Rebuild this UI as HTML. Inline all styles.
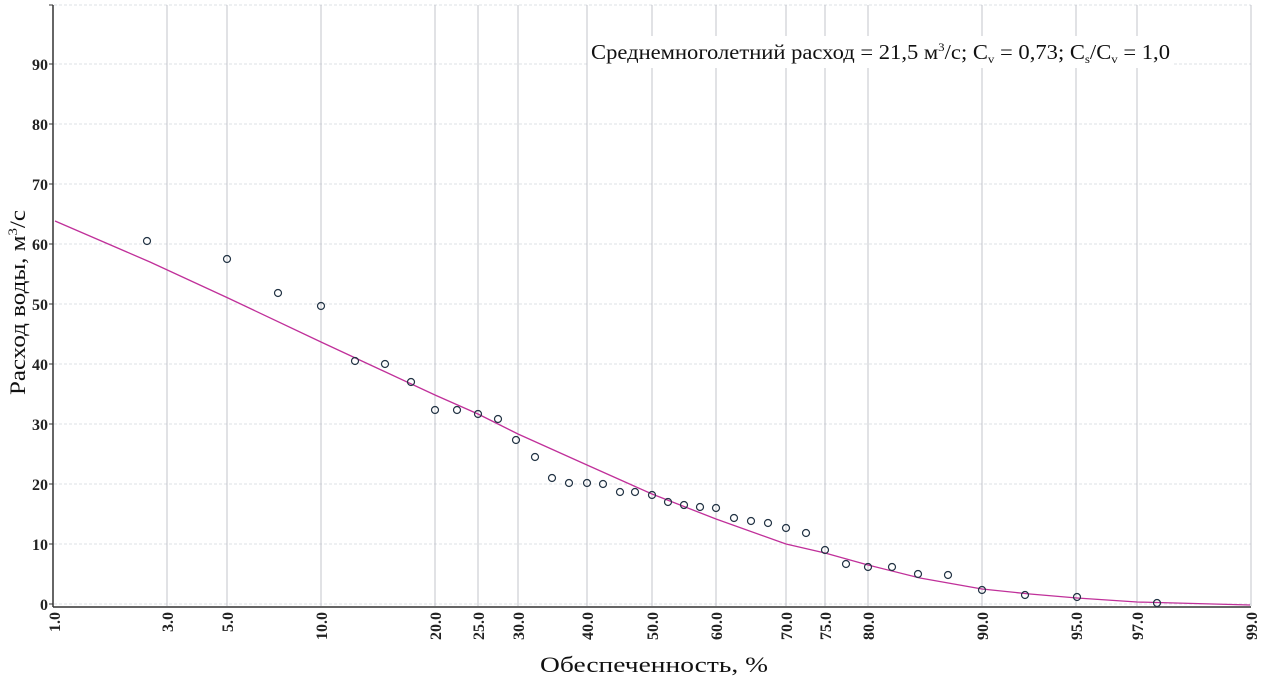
<!DOCTYPE html>
<html><head><meta charset="utf-8"><style>
body{margin:0;background:#fff;}
svg{display:block;font-family:"Liberation Serif",serif;}
</style></head><body>
<svg width="1265" height="678" viewBox="0 0 1265 678" xmlns="http://www.w3.org/2000/svg">
<rect width="1265" height="678" fill="#fff"/>
<g stroke="#dde0e6" stroke-width="1" stroke-dasharray="3,2">
<line x1="54" y1="5" x2="1251" y2="5"/>
<line x1="54" y1="64" x2="1251" y2="64"/>
<line x1="54" y1="124" x2="1251" y2="124"/>
<line x1="54" y1="184" x2="1251" y2="184"/>
<line x1="54" y1="244" x2="1251" y2="244"/>
<line x1="54" y1="304" x2="1251" y2="304"/>
<line x1="54" y1="364" x2="1251" y2="364"/>
<line x1="54" y1="424" x2="1251" y2="424"/>
<line x1="54" y1="484" x2="1251" y2="484"/>
<line x1="54" y1="544" x2="1251" y2="544"/>
<line x1="54" y1="604" x2="1251" y2="604"/>
</g>
<g stroke="#b4b6be" stroke-width="0.8">
<line x1="167" y1="5" x2="167" y2="606"/>
<line x1="227" y1="5" x2="227" y2="606"/>
<line x1="321" y1="5" x2="321" y2="606"/>
<line x1="435" y1="5" x2="435" y2="606"/>
<line x1="478" y1="5" x2="478" y2="606"/>
<line x1="518" y1="5" x2="518" y2="606"/>
<line x1="587" y1="5" x2="587" y2="606"/>
<line x1="652" y1="5" x2="652" y2="606"/>
<line x1="716" y1="5" x2="716" y2="606"/>
<line x1="786" y1="5" x2="786" y2="606"/>
<line x1="825" y1="5" x2="825" y2="606"/>
<line x1="868" y1="5" x2="868" y2="606"/>
<line x1="982" y1="5" x2="982" y2="606"/>
<line x1="1076" y1="5" x2="1076" y2="606"/>
<line x1="1137" y1="5" x2="1137" y2="606"/>
<line x1="1251" y1="5" x2="1251" y2="606"/>
</g>
<rect x="589" y="36" width="584" height="32" fill="#fff"/>
<text x="591" y="59" font-size="21" fill="#111" textLength="579" lengthAdjust="spacingAndGlyphs">Среднемноголетний расход = 21,5 м<tspan font-size="12" dy="-8">3</tspan><tspan dy="8">/с; C</tspan><tspan font-size="12" dy="4">v</tspan><tspan dy="-4"> = 0,73; C</tspan><tspan font-size="12" dy="4">s</tspan><tspan dy="-4">/C</tspan><tspan font-size="12" dy="4">v</tspan><tspan dy="-4"> = 1,0</tspan></text>
<line x1="53" y1="5" x2="53" y2="607" stroke="#333" stroke-width="1.5"/>
<line x1="53" y1="607" x2="1251" y2="607" stroke="#333" stroke-width="1.5"/>
<g stroke="#333" stroke-width="1">
<line x1="49" y1="5" x2="53" y2="5"/><line x1="49" y1="64" x2="53" y2="64"/><line x1="49" y1="124" x2="53" y2="124"/><line x1="49" y1="184" x2="53" y2="184"/><line x1="49" y1="244" x2="53" y2="244"/><line x1="49" y1="304" x2="53" y2="304"/><line x1="49" y1="364" x2="53" y2="364"/><line x1="49" y1="424" x2="53" y2="424"/><line x1="49" y1="484" x2="53" y2="484"/><line x1="49" y1="544" x2="53" y2="544"/><line x1="49" y1="604" x2="53" y2="604"/>
</g>
<g font-size="16" font-weight="bold" fill="#222" text-anchor="end">
<text x="48" y="70">90</text><text x="48" y="130">80</text><text x="48" y="190">70</text><text x="48" y="250">60</text><text x="48" y="310">50</text><text x="48" y="370">40</text><text x="48" y="430">30</text><text x="48" y="490">20</text><text x="48" y="550">10</text><text x="48" y="610">0</text>
</g>
<g font-size="16" font-weight="bold" fill="#222" text-anchor="end">
<text transform="translate(60,612) rotate(-90)">1.0</text>
<text transform="translate(173,612) rotate(-90)">3.0</text>
<text transform="translate(233,612) rotate(-90)">5.0</text>
<text transform="translate(327,612) rotate(-90)">10.0</text>
<text transform="translate(441,612) rotate(-90)">20.0</text>
<text transform="translate(484,612) rotate(-90)">25.0</text>
<text transform="translate(524,612) rotate(-90)">30.0</text>
<text transform="translate(593,612) rotate(-90)">40.0</text>
<text transform="translate(658,612) rotate(-90)">50.0</text>
<text transform="translate(722,612) rotate(-90)">60.0</text>
<text transform="translate(792,612) rotate(-90)">70.0</text>
<text transform="translate(831,612) rotate(-90)">75.0</text>
<text transform="translate(874,612) rotate(-90)">80.0</text>
<text transform="translate(988,612) rotate(-90)">90.0</text>
<text transform="translate(1082,612) rotate(-90)">95.0</text>
<text transform="translate(1143,612) rotate(-90)">97.0</text>
<text transform="translate(1257,612) rotate(-90)">99.0</text>
</g>
<text x="540" y="672" font-size="22" fill="#111" textLength="228" lengthAdjust="spacingAndGlyphs">Обеспеченность, %</text>
<text transform="translate(25,395) rotate(-90)" font-size="22" fill="#111" textLength="185" lengthAdjust="spacingAndGlyphs">Расход воды, м<tspan font-size="13" dy="-8">3</tspan><tspan dy="8">/с</tspan></text>
<path d="M55,221 L150,262 L228,298 L321,342 L435,395 L478,414 L518,434 L587,465 L652,494 L716,519 L786,544 L825,553 L868,565 L920,578 L982,589 L1030,594 L1077,598 L1137,602 L1250,605" fill="none" stroke="#c0309a" stroke-width="1.3" stroke-linejoin="round"/>
<g fill="none" stroke="#223344" stroke-width="1.2">
<circle cx="147" cy="241" r="3.5"/><circle cx="227" cy="259" r="3.5"/><circle cx="278" cy="293" r="3.5"/><circle cx="321" cy="306" r="3.5"/><circle cx="355" cy="361" r="3.5"/><circle cx="385" cy="364" r="3.5"/><circle cx="411" cy="382" r="3.5"/><circle cx="435" cy="410" r="3.5"/><circle cx="457" cy="410" r="3.5"/><circle cx="478" cy="414" r="3.5"/><circle cx="498" cy="419" r="3.5"/><circle cx="516" cy="440" r="3.5"/><circle cx="535" cy="457" r="3.5"/><circle cx="552" cy="478" r="3.5"/><circle cx="569" cy="483" r="3.5"/><circle cx="587" cy="483" r="3.5"/><circle cx="603" cy="484" r="3.5"/><circle cx="620" cy="492" r="3.5"/><circle cx="635" cy="492" r="3.5"/><circle cx="652" cy="495" r="3.5"/><circle cx="668" cy="502" r="3.5"/><circle cx="684" cy="505" r="3.5"/><circle cx="700" cy="507" r="3.5"/><circle cx="716" cy="508" r="3.5"/><circle cx="734" cy="518" r="3.5"/><circle cx="751" cy="521" r="3.5"/><circle cx="768" cy="523" r="3.5"/><circle cx="786" cy="528" r="3.5"/><circle cx="806" cy="533" r="3.5"/><circle cx="825" cy="550" r="3.5"/><circle cx="846" cy="564" r="3.5"/><circle cx="868" cy="567" r="3.5"/><circle cx="892" cy="567" r="3.5"/><circle cx="918" cy="574" r="3.5"/><circle cx="948" cy="575" r="3.5"/><circle cx="982" cy="590" r="3.5"/><circle cx="1025" cy="595" r="3.5"/><circle cx="1077" cy="597" r="3.5"/><circle cx="1157" cy="603" r="3.5"/>
</g>
</svg>
</body></html>
